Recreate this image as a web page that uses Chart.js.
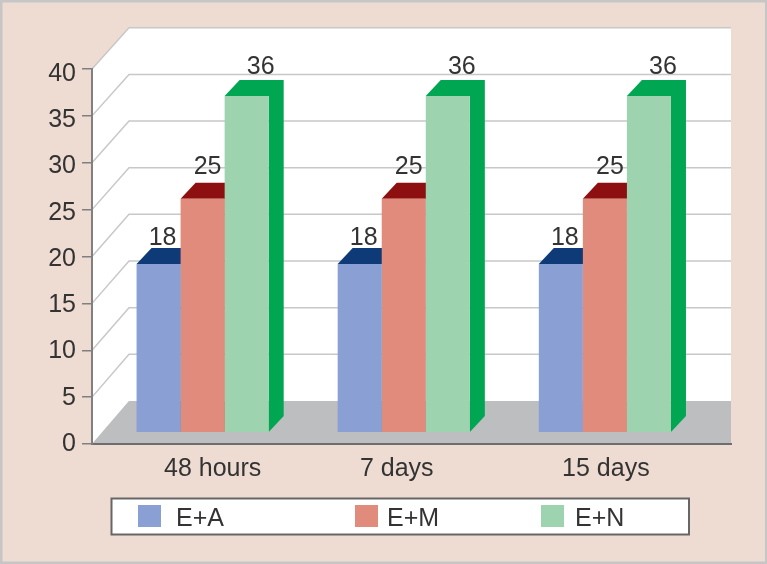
<!DOCTYPE html>
<html>
<head>
<meta charset="utf-8">
<title>Chart</title>
<script src="https://cdn.jsdelivr.net/npm/chart.js@4"></script>
<style>
    body { margin: 0; background: #eedcd2; }
    canvas { display: block; }
</style>
</head>
<body>
<canvas id="myChart" width="767" height="564"></canvas>
<script>
//values
const categories = ['48 hours', '7 days', '15 days'];
const seriesNames = ['E+A', 'E+M', 'E+N'];
const eaValues = [18, 18, 18];
const emValues = [25, 25, 25];
const enValues = [36, 36, 36];
const yMax = 40;
const yStep = 5;

//front face and dark side colour of each series
const frontColors = ['#8a9fd3', '#e18b7d', '#9dd3ae'];
const sideColors = ['#0f3a78', '#8e0f10', '#00a651'];

const fontFamily = '"Liberation Sans", Arial, sans-serif';
const textFont = '25px ' + fontFamily;
const textColor = '#333333';
const barDepthX = 15;
const barDepthY = 16;
const wallDepthX = 37;

function toPoints(values) {
    return values.map((v, i) => ({ x: i, y: v }));
}

function fillPoly(ctx, color, points) {
    ctx.fillStyle = color;
    ctx.beginPath();
    points.forEach((p, i) => i ? ctx.lineTo(p[0], p[1]) : ctx.moveTo(p[0], p[1]));
    ctx.closePath();
    ctx.fill();
}

//background, walls, floor and grid of the 3d box
const boxPlugin = {
    id: 'box',
    beforeDraw(chart) {
        const ctx = chart.ctx;
        const area = chart.chartArea;
        const yAxis = chart.scales.y;
        const yBars = chart.scales.yBars;
        const backY = v => yBars.getPixelForValue(v) - 31;
        const backX = area.left + wallDepthX;
        ctx.save();
        ctx.fillStyle = '#eedcd2';
        ctx.fillRect(0, 0, chart.width, chart.height);
        ctx.strokeStyle = '#c6c6c6';
        ctx.lineWidth = 3;
        ctx.strokeRect(1, 1, chart.width - 1.5, chart.height - 2);

        fillPoly(ctx, '#ffffff', [
            [area.left, yAxis.getPixelForValue(yMax)], [backX, backY(yMax)], [area.right, backY(yMax)],
            [area.right, backY(0)], [backX, backY(0)], [area.left, yAxis.getPixelForValue(0)]
        ]);
        fillPoly(ctx, '#bcbec0', [
            [area.left, yAxis.getPixelForValue(0)], [backX, backY(0)], [area.right, backY(0)], [area.right, yAxis.getPixelForValue(0)]
        ]);

        ctx.strokeStyle = '#c8c8c8';
        ctx.lineWidth = 1.5;
        for (let v = yStep; v <= yMax; v += yStep) {
            ctx.beginPath();
            ctx.moveTo(area.left, yAxis.getPixelForValue(v));
            ctx.lineTo(backX, backY(v));
            ctx.lineTo(area.right, backY(v));
            ctx.stroke();
        }
        ctx.restore();
    },
    //top and side faces go under the bars, so each front hides the side of its neighbour
    beforeDatasetsDraw(chart) {
        const ctx = chart.ctx;
        ctx.save();
        chart.data.datasets.forEach((ds, d) => {
            chart.getDatasetMeta(d).data.forEach(bar => {
                const l = bar.x - bar.width / 2;
                const r = bar.x + bar.width / 2;
                fillPoly(ctx, sideColors[d], [
                    [l, bar.y], [l + barDepthX, bar.y - barDepthY], [r + barDepthX, bar.y - barDepthY],
                    [r + barDepthX, bar.base - barDepthY], [r, bar.base], [r, bar.y]
                ]);
            });
        });
        ctx.restore();
    },
    //value labels and the legend box
    afterDraw(chart) {
        const ctx = chart.ctx;
        const labelDx = [4, 5, 14];
        const labelDy = [19, 24.5, 22];
        ctx.save();
        ctx.font = textFont;
        ctx.fillStyle = textColor;
        ctx.textAlign = 'center';
        ctx.textBaseline = 'alphabetic';
        chart.data.datasets.forEach((ds, d) => {
            chart.getDatasetMeta(d).data.forEach((bar, i) => {
                ctx.fillText(ds.data[i].y, bar.x + labelDx[d], bar.y - labelDy[d]);
            });
        });

        ctx.fillStyle = '#ffffff';
        ctx.fillRect(111.5, 498.5, 577.5, 36);
        ctx.strokeStyle = '#666666';
        ctx.lineWidth = 2;
        ctx.strokeRect(111.5, 498.5, 577.5, 36);
        const swatchX = [138, 355, 541];
        const nameX = [176, 387, 575];
        ctx.textAlign = 'left';
        seriesNames.forEach((name, d) => {
            ctx.fillStyle = frontColors[d];
            ctx.fillRect(swatchX[d], 505, 23, 22);
            ctx.fillStyle = textColor;
            ctx.fillText(name, nameX[d], 526);
        });
        ctx.restore();
    }
};

const labelShift = [0.05, -0.035, 0.005];

new Chart(document.getElementById('myChart'), {
    type: 'bar',
    data: {
        datasets: [
            { label: seriesNames[0], data: toPoints(eaValues), backgroundColor: frontColors[0], yAxisID: 'yBars' },
            { label: seriesNames[1], data: toPoints(emValues), backgroundColor: frontColors[1], yAxisID: 'yBars' },
            { label: seriesNames[2], data: toPoints(enValues), backgroundColor: frontColors[2], yAxisID: 'yBars' }
        ]
    },
    options: {
        responsive: false,
        animation: false,
        layout: { padding: { top: 69, right: 36, bottom: 0, left: 0 } },
        //bar slots are measured against the shifted x ticks, hence the larger percentage
        datasets: { bar: { categoryPercentage: 0.718, barPercentage: 1 } },
        plugins: {
            legend: { display: false },
            tooltip: { enabled: false }
        },
        scales: {
            x: {
                type: 'linear',
                offset: false,
                min: -0.55,
                max: 2.627,
                afterBuildTicks: axis => {
                    axis.ticks = categories.map((c, i) => ({ value: i + labelShift[i] }));
                },
                afterFit: axis => { axis.height = 120; },
                grid: { display: false, drawTicks: false, offset: false },
                border: { display: true, color: '#6d6e71', width: 2 },
                ticks: {
                    autoSkip: false,
                    maxRotation: 0,
                    padding: 10,
                    color: textColor,
                    font: { family: fontFamily, size: 25 },
                    callback: (value, index) => categories[index]
                }
            },
            //axis line and tick marks only, the numbers sit on yLabels
            y: {
                weight: 0,
                min: 0,
                max: yMax,
                afterFit: axis => { axis.width = 0; },
                grid: { drawOnChartArea: false, drawTicks: true, tickLength: 10, color: '#808080', lineWidth: 1.5 },
                border: { display: true, color: '#808080', width: 2 },
                ticks: { stepSize: yStep, display: false }
            },
            //the printed numbers drift from the tick marks in the reference
            yLabels: {
                weight: 1,
                min: -0.01,
                max: 40.54,
                afterFit: axis => { axis.width = 92; },
                grid: { display: false, drawTicks: false },
                border: { display: false },
                ticks: {
                    stepSize: yStep,
                    includeBounds: false,
                    padding: 16,
                    color: textColor,
                    font: { family: fontFamily, size: 25 }
                }
            },
            //bars stand on the inner floor, a little above and less steep than the front axis
            yBars: {
                display: false,
                min: -1.286,
                max: 38.9
            }
        }
    },
    plugins: [boxPlugin]
});
</script>
</body>
</html>
